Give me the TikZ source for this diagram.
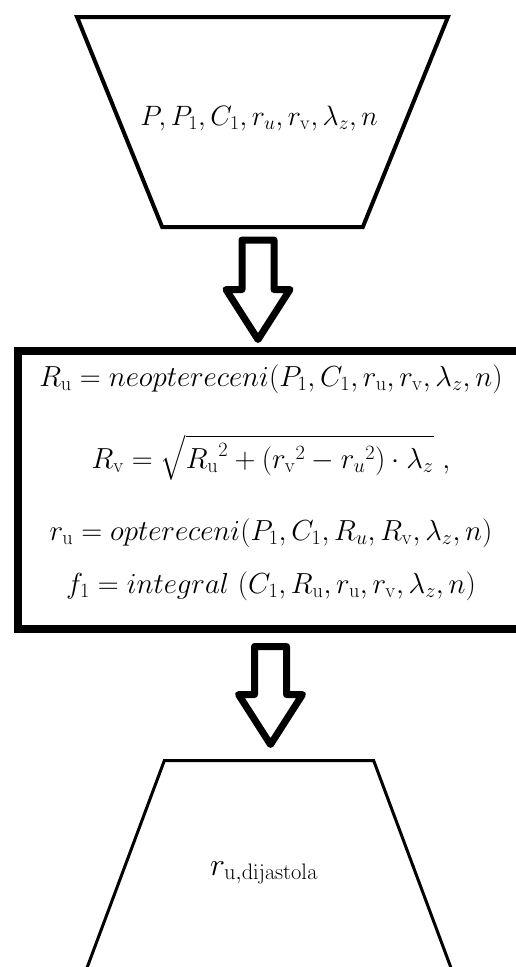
\RequirePackage{fix-cm}
\documentclass[tikz,border=0pt]{standalone}
\usepackage{amsmath}
\usetikzlibrary{calc, shapes.geometric}

% --- Blockpfeil zwischen zwei Koordinaten ---
\newcommand{\blockarrow}[2]{%
  \draw[hollowarrow] let \p1=(#1), \p2=(#2) in
    (\x1-16pt,\y1) -- (\x1+16pt,\y1) -- (\x1+16pt,\y2+50pt)
    -- (\x1+32pt,\y2+50pt) -- (\x2,\y2) -- (\x1-32pt,\y2+50pt)
    -- (\x1-16pt,\y2+50pt) -- cycle;}

\begin{document}
\begin{tikzpicture}[
    x=1pt, y=-1pt,
    eqfont/.style={font=\fontsize{29}{33}\selectfont},
    inshape/.style={trapezium, draw, line width=4pt, shape border rotate=180,
        trapezium angle=67, trapezium stretches=true,
        minimum width=371pt, minimum height=210pt},
    outshape/.style={trapezium, draw, line width=3pt,
        trapezium angle=67, trapezium stretches=true,
        minimum width=387pt, minimum height=238pt},
    calcbox/.style={draw, line width=8pt, minimum width=512pt, minimum height=278pt},
    eqline/.style={eqfont, anchor=base},
    hollowarrow/.style={draw, line width=7pt, line join=round, fill=white}
]
\useasboundingbox (0,0) rectangle (515,967);

% --- Eingabe ---
\node[inshape] (input) at (262.5,122) {};
\node[eqline, font=\fontsize{28}{32}\selectfont] (inlbl) at (259,125)
    {$P, P_1, C_1, r_u, r_{\mathrm{v}}, \lambda_z, n$};

% --- Berechnung ---
\node[calcbox] (calc) at (273.5,489.5) {};
\node[eqline] (eq1) at (271,386)
    {$R_{\mathrm{u}} = neoptereceni(P_1, C_1, r_{\mathrm{u}}, r_{\mathrm{v}}, \lambda_z, n)$};
\node[eqline] (eq2) at (271,468)
    {$R_{\mathrm{v}} = \sqrt{{R_{\mathrm{u}}}^2 + ({r_{\mathrm{v}}}^2 - {r_u}^2)\cdot\lambda_z}\ ,$};
\node[eqline] (eq3) at (271,540)
    {$r_{\mathrm{u}} = optereceni(P_1, C_1, R_u, R_{\mathrm{v}}, \lambda_z, n)$};
\node[eqline] (eq4) at (271,593)
    {$f_1 = integral\ (C_1, R_{\mathrm{u}}, r_{\mathrm{u}}, r_{\mathrm{v}}, \lambda_z, n)$};

% --- Ausgabe ---
\node[outshape] (output) at (269,879.5) {};
\node[eqline, font=\fontsize{32}{36}\selectfont] (outlbl) at (264,875)
    {$r_{\mathrm{u,dijastola}}$};

% --- Pfeile ---
\coordinate (a1s) at (258,240);
\coordinate (a1e) at (258,339.5);
\coordinate (a2s) at (270.5,646.5);
\coordinate (a2e) at (270.5,744.5);
\blockarrow{a1s}{a1e}
\blockarrow{a2s}{a2e}

\end{tikzpicture}
\end{document}
